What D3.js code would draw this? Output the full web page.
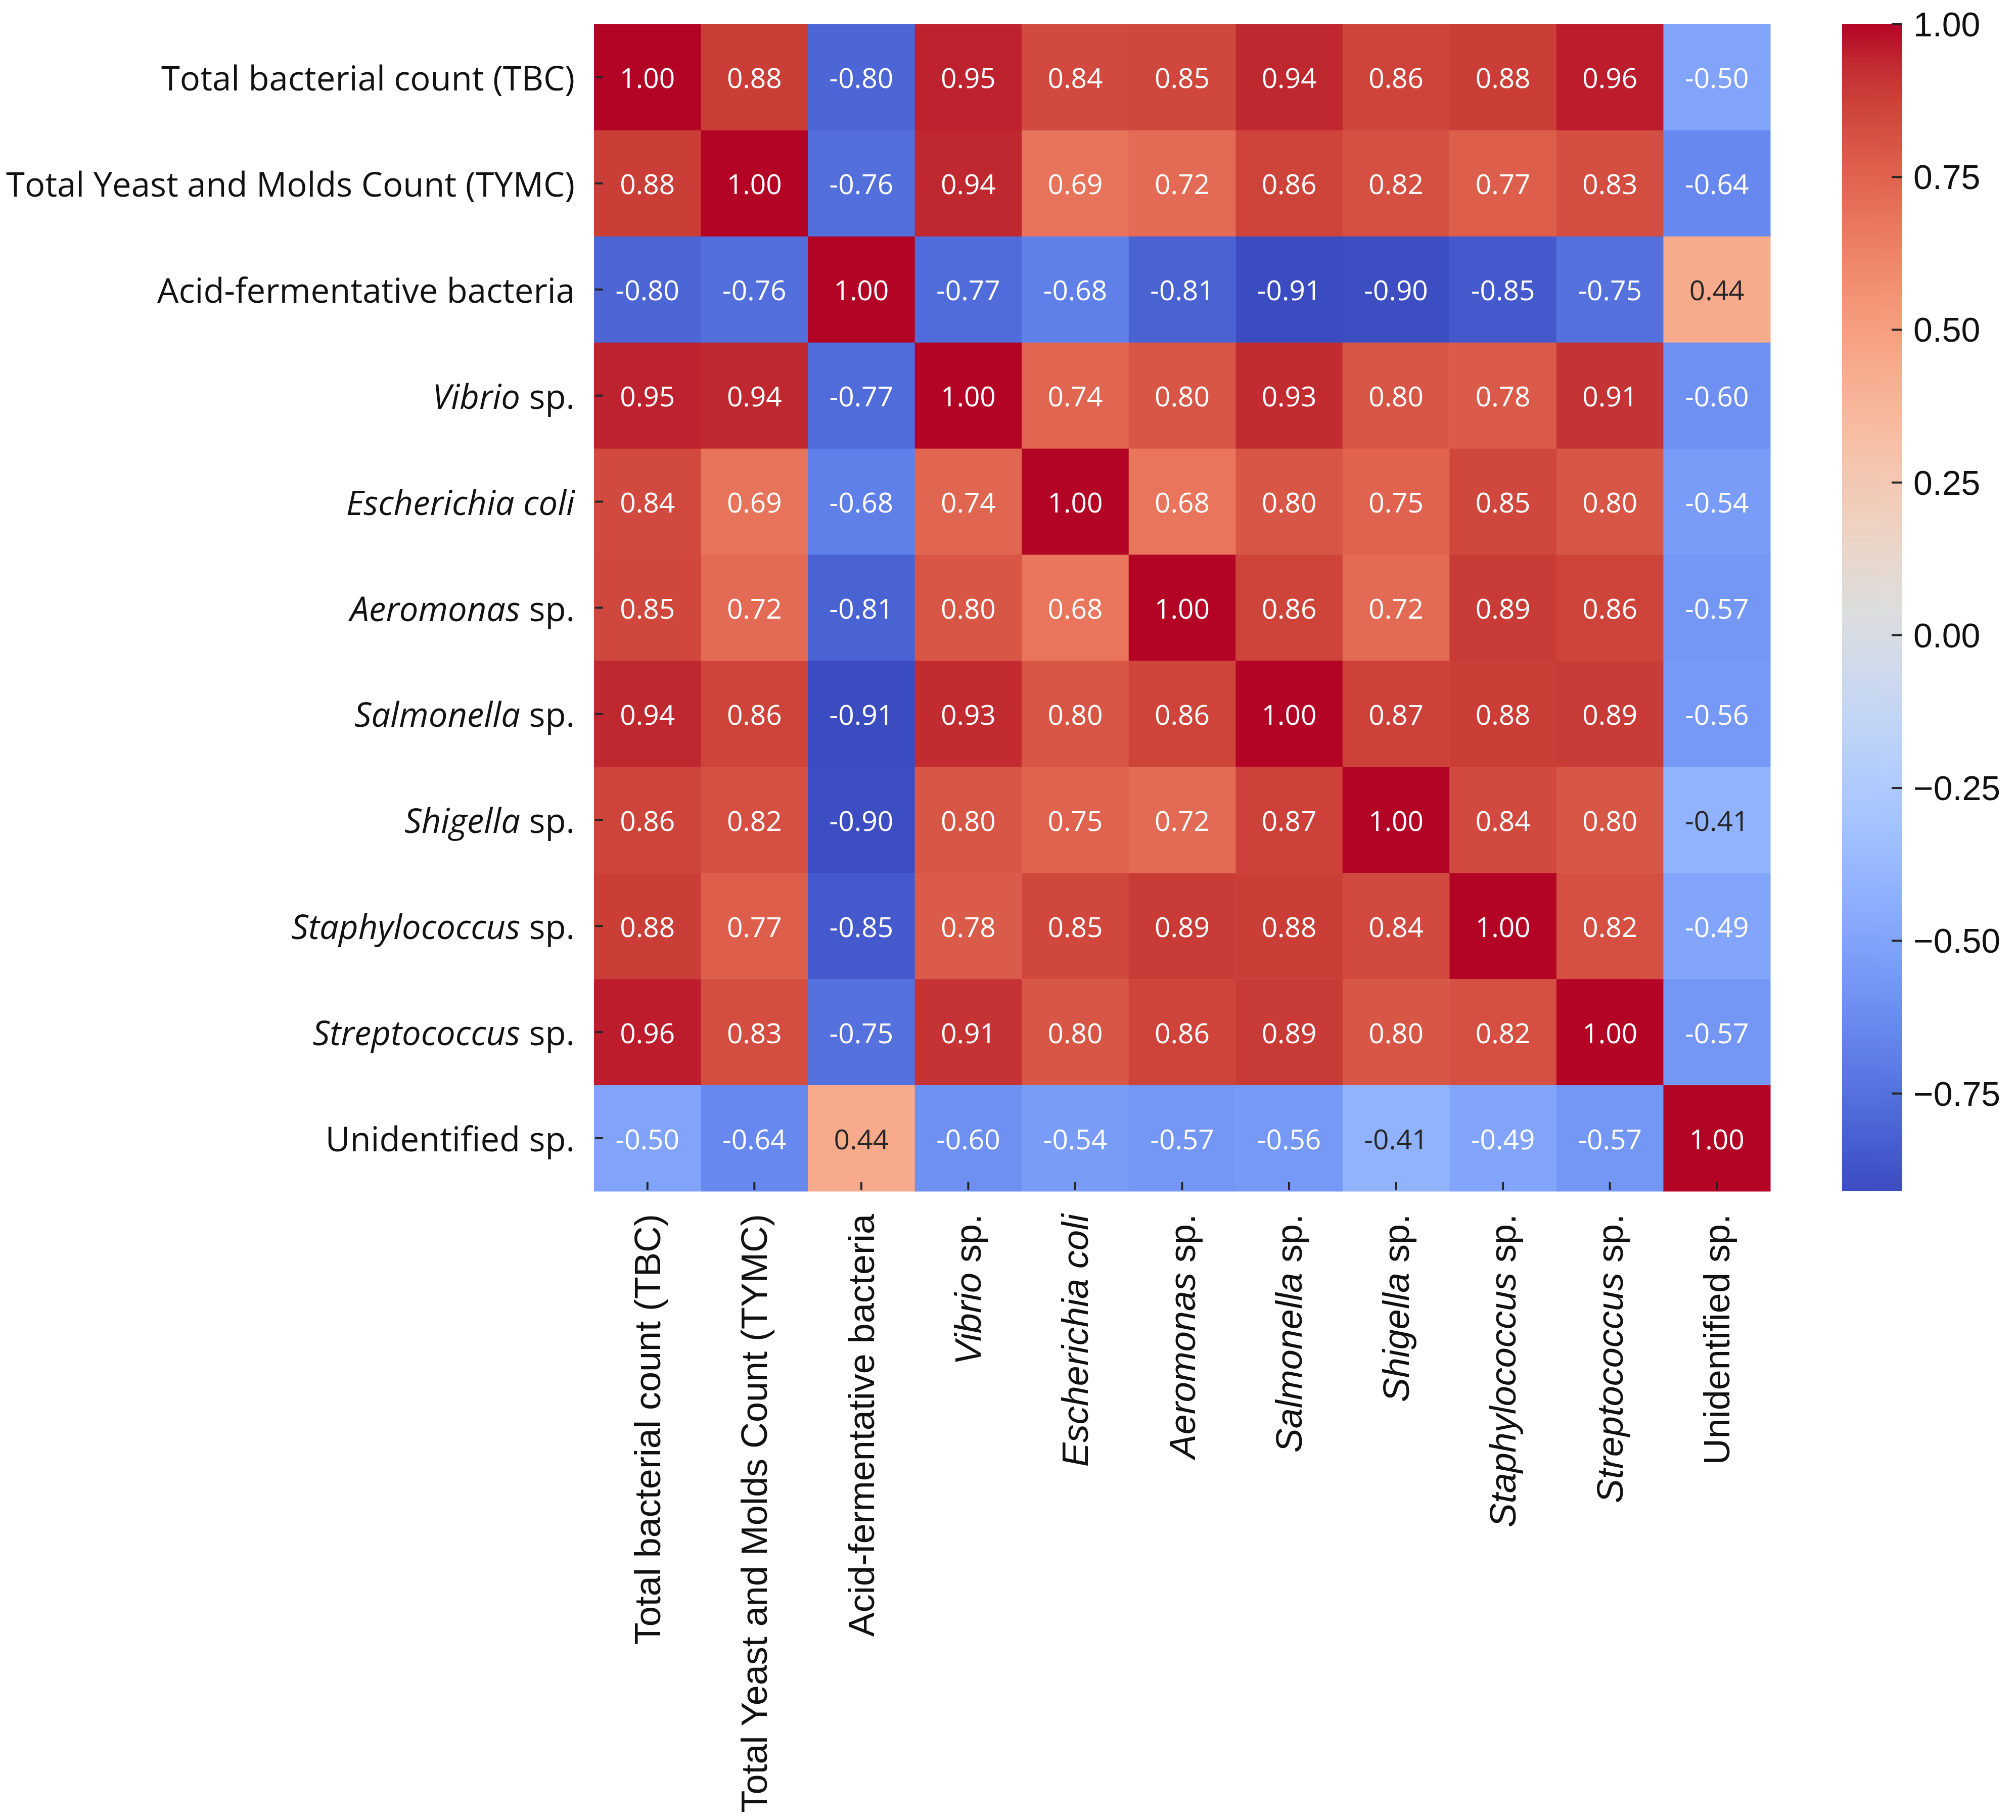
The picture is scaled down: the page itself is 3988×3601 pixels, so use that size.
<!DOCTYPE html>
<html>
<head>
<meta charset="utf-8">
<script src="https://cdn.jsdelivr.net/npm/d3@7"></script>
<style>
  body { margin: 0; background: #fff; }
</style>
</head>
<body>
<svg id="chart"></svg>
<script>
"use strict"

// labels, split into [text, italic] parts
const labels = [
  [["Total bacterial count (TBC)", false]],
  [["Total Yeast and Molds Count (TYMC)", false]],
  [["Acid-fermentative bacteria", false]],
  [["Vibrio", true], [" sp.", false]],
  [["Escherichia coli", true]],
  [["Aeromonas", true], [" sp.", false]],
  [["Salmonella", true], [" sp.", false]],
  [["Shigella", true], [" sp.", false]],
  [["Staphylococcus", true], [" sp.", false]],
  [["Streptococcus", true], [" sp.", false]],
  [["Unidentified sp.", false]]
]

const corr = [
  [ 1.00,  0.88, -0.80,  0.95,  0.84,  0.85,  0.94,  0.86,  0.88,  0.96, -0.50],
  [ 0.88,  1.00, -0.76,  0.94,  0.69,  0.72,  0.86,  0.82,  0.77,  0.83, -0.64],
  [-0.80, -0.76,  1.00, -0.77, -0.68, -0.81, -0.91, -0.90, -0.85, -0.75,  0.44],
  [ 0.95,  0.94, -0.77,  1.00,  0.74,  0.80,  0.93,  0.80,  0.78,  0.91, -0.60],
  [ 0.84,  0.69, -0.68,  0.74,  1.00,  0.68,  0.80,  0.75,  0.85,  0.80, -0.54],
  [ 0.85,  0.72, -0.81,  0.80,  0.68,  1.00,  0.86,  0.72,  0.89,  0.86, -0.57],
  [ 0.94,  0.86, -0.91,  0.93,  0.80,  0.86,  1.00,  0.87,  0.88,  0.89, -0.56],
  [ 0.86,  0.82, -0.90,  0.80,  0.75,  0.72,  0.87,  1.00,  0.84,  0.80, -0.41],
  [ 0.88,  0.77, -0.85,  0.78,  0.85,  0.89,  0.88,  0.84,  1.00,  0.82, -0.49],
  [ 0.96,  0.83, -0.75,  0.91,  0.80,  0.86,  0.89,  0.80,  0.82,  1.00, -0.57],
  [-0.50, -0.64,  0.44, -0.60, -0.54, -0.57, -0.56, -0.41, -0.49, -0.57,  1.00]
]

const colorbarTicks = [-0.75, -0.50, -0.25, 0.00, 0.25, 0.50, 0.75, 1.00]

// matplotlib "coolwarm" (Moreland) anchor colours
const coolwarm = [
  [59,76,192],[68,90,204],[77,104,215],[87,117,225],[98,130,234],[108,142,241],
  [119,154,247],[130,165,251],[141,176,254],[152,185,255],[163,194,255],[174,201,253],
  [184,208,249],[194,213,244],[204,217,238],[213,219,230],[221,221,221],[229,216,209],
  [236,211,197],[241,204,184],[245,196,173],[247,187,160],[247,177,148],[247,166,135],
  [244,154,123],[241,141,111],[236,127,99],[229,112,88],[222,96,77],[213,80,66],
  [203,62,56],[192,40,47],[180,4,38]
]

const W = 3988, H = 3601
const hm = { x0: 1175, x1: 3502, y0: 48, y1: 2357 }
const cb = { x0: 3644, x1: 3762 }

const allVals = corr.flat()
const vmin = d3.min(allVals), vmax = d3.max(allVals)

const cmap = d3.scaleLinear()
  .domain(coolwarm.map((c, i) => i / (coolwarm.length - 1)))
  .range(coolwarm.map(c => d3.rgb(c[0], c[1], c[2])))
  .interpolate(d3.interpolateRgb)
  .clamp(true)

const norm = d3.scaleLinear().domain([vmin, vmax]).range([0, 1])
const color = v => cmap(norm(v))

function textColor(v) {
  const c = d3.rgb(color(v))
  const lin = x => { x /= 255; return x <= 0.04045 ? x / 12.92 : Math.pow((x + 0.055) / 1.055, 2.4) }
  const lum = 0.2126 * lin(c.r) + 0.7152 * lin(c.g) + 0.0722 * lin(c.b)
  return lum > 0.408 ? "#262626" : "#ffffff"
}

const idx = d3.range(labels.length)
const x = d3.scaleBand().domain(idx).range([hm.x0, hm.x1])
const y = d3.scaleBand().domain(idx).range([hm.y0, hm.y1])
const cy = d3.scaleLinear().domain([vmin, vmax]).range([hm.y1, hm.y0])

const svg = d3.select("#chart")
  .attr("width", W).attr("height", H)
  .attr("viewBox", `0 0 ${W} ${H}`)

svg.append("rect").attr("width", W).attr("height", H).attr("fill", "#fff")

// cells
const cells = []
corr.forEach((row, i) => row.forEach((v, j) => cells.push({ i, j, v })))

svg.append("g")
  .selectAll("rect")
  .data(cells)
  .enter().append("rect")
    .attr("x", d => x(d.j))
    .attr("y", d => y(d.i))
    .attr("width", x.bandwidth() + 0.5)
    .attr("height", y.bandwidth() + 0.5)
    .attr("fill", d => color(d.v))

svg.append("g")
  .selectAll("text")
  .data(cells)
  .enter().append("text")
    .attr("x", d => x(d.j) + x.bandwidth() / 2)
    .attr("y", d => y(d.i) + y.bandwidth() / 2)
    .attr("text-anchor", "middle")
    .attr("dominant-baseline", "central")
    .attr("font-family", "'Open Sans', sans-serif")
    .attr("font-size", 55)
    .attr("fill", d => textColor(d.v))
    .text(d => d.v.toFixed(2))

// ticks drawn just inside the heatmap edges
svg.append("g")
  .selectAll("line")
  .data(idx)
  .enter().append("line")
    .attr("x1", hm.x0 + 2).attr("x2", hm.x0 + 18)
    .attr("y1", d => y(d) + y.bandwidth() / 2)
    .attr("y2", d => y(d) + y.bandwidth() / 2)
    .attr("stroke", "#262626").attr("stroke-width", 4)

svg.append("g")
  .selectAll("line")
  .data(idx)
  .enter().append("line")
    .attr("y1", hm.y1 - 18).attr("y2", hm.y1 - 2)
    .attr("x1", d => x(d) + x.bandwidth() / 2)
    .attr("x2", d => x(d) + x.bandwidth() / 2)
    .attr("stroke", "#262626").attr("stroke-width", 4)

function addParts(sel) {
  sel.each(function(d) {
    const t = d3.select(this)
    labels[d].forEach(p => {
      t.append("tspan")
        .attr("font-style", p[1] ? "italic" : "normal")
        .text(p[0])
    })
  })
}

// y labels
svg.append("g")
  .selectAll("text")
  .data(idx)
  .enter().append("text")
    .attr("x", 1137)
    .attr("y", d => y(d) + y.bandwidth() / 2)
    .attr("text-anchor", "end")
    .attr("dominant-baseline", "central")
    .attr("font-family", "'Open Sans', sans-serif")
    .attr("font-size", 67)
    .attr("fill", "#111")
    .call(addParts)

// x labels, rotated
svg.append("g")
  .selectAll("text")
  .data(idx)
  .enter().append("text")
    .attr("transform", d => `translate(${x(d) + x.bandwidth() / 2},${hm.y1 + 45}) rotate(-90)`)
    .attr("text-anchor", "end")
    .attr("dominant-baseline", "central")
    .attr("font-family", "'Liberation Sans', Arial, sans-serif")
    .attr("font-size", 72)
    .attr("fill", "#111")
    .call(addParts)

// colorbar
const grad = svg.append("defs").append("linearGradient")
  .attr("id", "cbgrad")
  .attr("x1", 0).attr("y1", 1).attr("x2", 0).attr("y2", 0)
grad.selectAll("stop")
  .data(d3.range(0, 1.0001, 1 / 64))
  .enter().append("stop")
    .attr("offset", d => d)
    .attr("stop-color", d => cmap(d))

svg.append("rect")
  .attr("x", cb.x0).attr("y", cy(vmax))
  .attr("width", cb.x1 - cb.x0)
  .attr("height", cy(vmin) - cy(vmax))
  .attr("fill", "url(#cbgrad)")

const cbAxis = svg.append("g")
cbAxis.selectAll("line")
  .data(colorbarTicks)
  .enter().append("line")
    .attr("x1", cb.x1 - 20).attr("x2", cb.x1)
    .attr("y1", d => cy(d)).attr("y2", d => cy(d))
    .attr("stroke", "#262626").attr("stroke-width", 4)

cbAxis.selectAll("text")
  .data(colorbarTicks)
  .enter().append("text")
    .attr("x", cb.x1 + 23)
    .attr("y", d => cy(d))
    .attr("dominant-baseline", "central")
    .attr("font-family", "'Liberation Sans', Arial, sans-serif")
    .attr("font-size", 68)
    .attr("fill", "#111")
    .text(d => d3.format(".2f")(d).replace("-", "\u2212"))
</script>
</body>
</html>
